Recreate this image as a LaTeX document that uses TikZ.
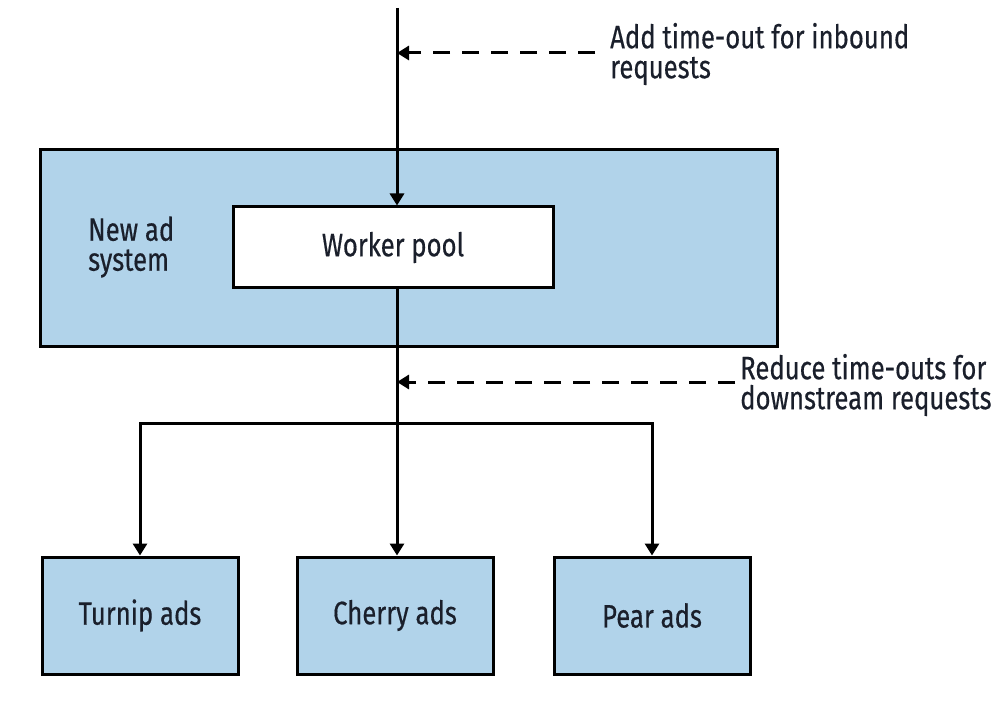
\documentclass[tikz,border=0pt]{standalone}
\usepackage{fontspec}
\setmainfont[FakeStretch=0.79,FakeBold=0.4]{Fira Sans}
\usetikzlibrary{arrows.meta}
\definecolor{boxblue}{HTML}{B1D3EA}
\definecolor{inkc}{HTML}{1A1F2B}
\begin{document}
\begin{tikzpicture}[x=1pt,y=-1pt,
  every node/.style={text=inkc, font=\fontsize{32.5}{30}\selectfont},
  bluebox/.style={draw=black, line width=3pt, fill=boxblue, inner sep=0pt},
  whitebox/.style={draw=black, line width=3pt, fill=white, inner sep=0pt},
  conn/.style={line width=3pt, -{Triangle[length=12pt,width=14pt]}},
  plain/.style={line width=3pt},
  dashconn/.style={line width=3pt, dash pattern=on 17pt off 12pt, -{Triangle[length=12pt,width=14pt]}},
  lbl/.style={align=left, anchor=west, inner sep=0pt}]
\useasboundingbox (0,0) rectangle (1000,708);
% containers
\node[bluebox, minimum width=737pt, minimum height=196pt] (sys) at (408.5,248) {};
\node[whitebox, minimum width=320pt, minimum height=81pt] (wp) at (393,247.5) {Worker pool};
\node[lbl] (syslbl) at (88,247) {New ad\\system};
% bottom boxes
\node[bluebox, minimum width=196pt, minimum height=117pt] (turnip) at (140,615.5) {Turnip ads};
\node[bluebox, minimum width=196pt, minimum height=117pt] (cherry) at (395,615.5) {Cherry ads};
\node[bluebox, minimum width=196pt, minimum height=117pt] (pear) at (652,615.5) {Pear ads};
% connectors
\coordinate (top) at (397,8);
\draw[conn] (top) -- (top |- wp.north);
\coordinate (j) at (397,423);
\draw[plain] (wp.south -| top) -- (j);
\draw[conn] (j) -- (j |- cherry.north);
\draw[conn] (j) -| (turnip.north);
\draw[conn] (j) -| (pear.north);
% annotations
\node[lbl] (note1) at (610,54) {Add time-out for inbound\\requests};
\coordinate (d1s) at (595,53);
\draw[dashconn] (d1s) -- (d1s -| top);
\node[lbl] (note2) at (740,385) {Reduce time-outs for\\downstream requests};
\coordinate (d2s) at (735,382);
\draw[dashconn] (d2s) -- (d2s -| top);
\end{tikzpicture}
\end{document}
